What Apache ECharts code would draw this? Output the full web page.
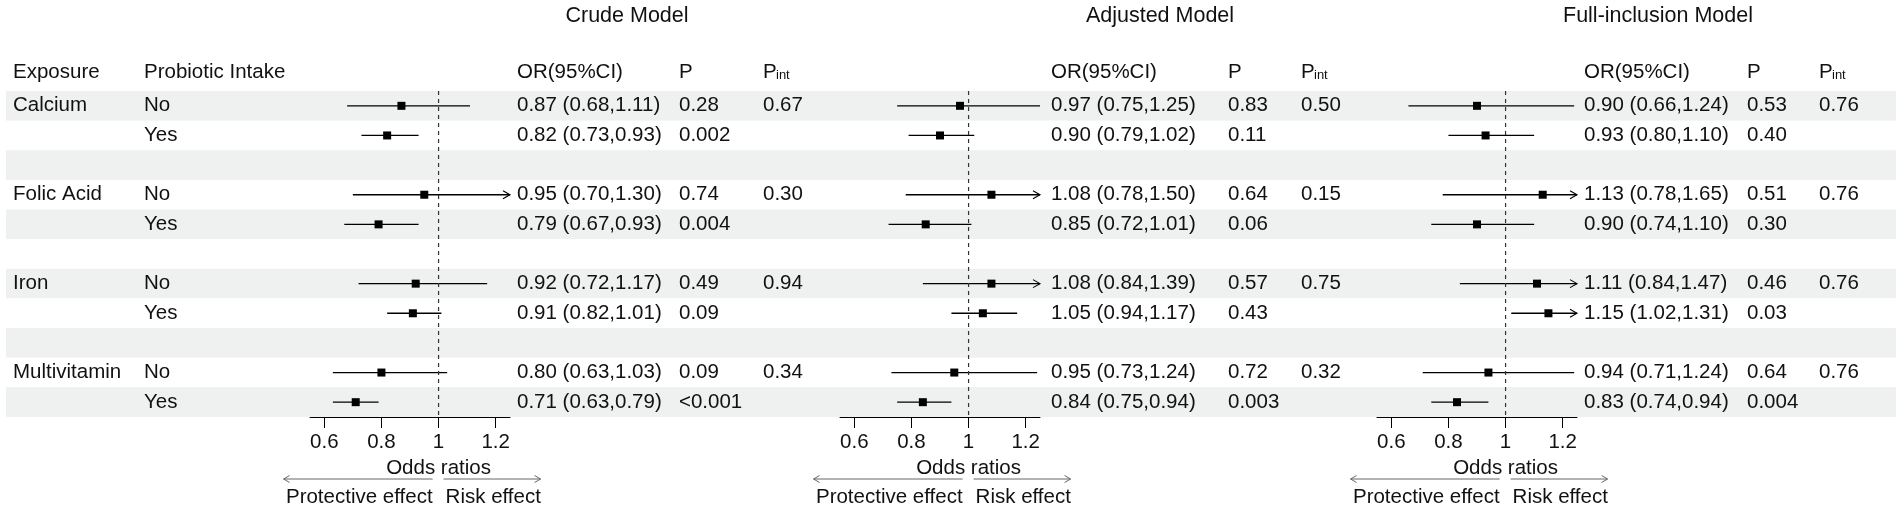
<!DOCTYPE html>
<html>
<head>
<meta charset="utf-8">
<script src="https://cdn.jsdelivr.net/npm/echarts@6/dist/echarts.min.js"></script>
<style>
  html, body { margin: 0; padding: 0; background: #fff; }
  #chart { width: 1902px; height: 511px; }
</style>
</head>
<body>
<div id="chart"></div>
<script>
// data
const exposures = ['Calcium', 'Folic Acid', 'Iron', 'Multivitamin']
const intakes = ['No', 'Yes']
const modelNames = ['Crude Model', 'Adjusted Model', 'Full-inclusion Model']
const tickValues = [0.6, 0.8, 1, 1.2]

const crudeOR = [0.87, 0.82, 0.95, 0.79, 0.92, 0.91, 0.80, 0.71]
const crudeLo = [0.68, 0.73, 0.70, 0.67, 0.72, 0.82, 0.63, 0.63]
const crudeHi = [1.11, 0.93, 1.30, 0.93, 1.17, 1.01, 1.03, 0.79]
const crudeP = ['0.28', '0.002', '0.74', '0.004', '0.49', '0.09', '0.09', '<0.001']
const crudePint = ['0.67', '0.30', '0.94', '0.34']

const adjOR = [0.97, 0.90, 1.08, 0.85, 1.08, 1.05, 0.95, 0.84]
const adjLo = [0.75, 0.79, 0.78, 0.72, 0.84, 0.94, 0.73, 0.75]
const adjHi = [1.25, 1.02, 1.50, 1.01, 1.39, 1.17, 1.24, 0.94]
const adjP = ['0.83', '0.11', '0.64', '0.06', '0.57', '0.43', '0.72', '0.003']
const adjPint = ['0.50', '0.15', '0.75', '0.32']

const fullOR = [0.90, 0.93, 1.13, 0.90, 1.11, 1.15, 0.94, 0.83]
const fullLo = [0.66, 0.80, 0.78, 0.74, 0.84, 1.02, 0.71, 0.74]
const fullHi = [1.24, 1.10, 1.65, 1.10, 1.47, 1.31, 1.24, 0.94]
const fullP = ['0.53', '0.40', '0.51', '0.30', '0.46', '0.03', '0.64', '0.004']
const fullPint = ['0.76', '0.76', '0.76', '0.76']

const models = [
  { or: crudeOR, lo: crudeLo, hi: crudeHi, p: crudeP, pint: crudePint },
  { or: adjOR, lo: adjLo, hi: adjHi, p: adjP, pint: adjPint },
  { or: fullOR, lo: fullLo, hi: fullHi, p: fullP, pint: fullPint }
]

// layout
const FONT = '"Liberation Sans", Arial, sans-serif'
const FS = 20.5
const INK = '#111'
const BAND = '#eef1f0'
const X_MIN = 0.55, X_MAX = 1.25
const TOP = 91, BODY_H = 326
const ROWS = 11 // 4 exposures x (No, Yes) + 3 spacer rows
const rowCats = Array.from({ length: ROWS }, (_, i) => String(i))
const rowOf = k => Math.floor(k / 2) * 3 + (k % 2)

// per-panel positions (px)
const panels = [
  { left: 310, title: 627, orX: 517, pX: 679, pintX: 763 },
  { left: 840, title: 1160, orX: 1051, pX: 1228, pintX: 1301 },
  { left: 1377, title: 1658, orX: 1584, pX: 1747, pintX: 1819 }
]
const PANEL_W = 200
const EXPO_X = 13, INTAKE_X = 144

const fmt = v => v.toFixed(2)

function txt(x, y, s, align, size) {
  return {
    type: 'text',
    style: {
      x, y, text: s, font: `${size || FS}px ${FONT}`, fill: INK,
      textAlign: align || 'left', textVerticalAlign: 'middle'
    }
  }
}

// table text: row labels + estimate columns, placed through the table grid
function renderTable(params, api) {
  const row = api.value(0), k = api.value(1)
  const y = api.coord([6, row])[1]
  const X = v => api.coord([v, row])[0]
  const kids = []
  const e = Math.floor(k / 2)
  if (k % 2 === 0) kids.push(txt(X(EXPO_X), y, exposures[e]))
  kids.push(txt(X(INTAKE_X), y, intakes[k % 2]))
  models.forEach((m, i) => {
    const pn = panels[i]
    kids.push(txt(X(pn.orX), y, `${fmt(m.or[k])} (${fmt(m.lo[k])},${fmt(m.hi[k])})`))
    kids.push(txt(X(pn.pX), y, m.p[k]))
    if (k % 2 === 0) kids.push(txt(X(pn.pintX), y, m.pint[e]))
  })
  return { type: 'group', children: kids }
}

// one CI line + square (+ arrow when the CI runs past the axis)
function renderForest(params, api) {
  const or = api.value(0), row = api.value(1), lo = api.value(2), hi = api.value(3)
  const y = api.coord([or, row])[1]
  const xo = api.coord([or, row])[0]
  const xl = api.coord([Math.max(lo, X_MIN), row])[0]
  const xh = api.coord([Math.min(hi, X_MAX), row])[0]
  const kids = [
    { type: 'line', shape: { x1: xl, y1: y, x2: xh, y2: y }, style: { stroke: '#000', lineWidth: 1.3 } },
    { type: 'rect', shape: { x: xo - 4, y: y - 4, width: 8, height: 8 }, style: { fill: '#000' } }
  ]
  if (hi > X_MAX) {
    kids.push({
      type: 'polyline',
      shape: { points: [[xh - 7, y - 4], [xh, y], [xh - 7, y + 4]] },
      style: { stroke: '#000', lineWidth: 1.1, fill: null }
    })
  }
  return { type: 'group', children: kids }
}

// reference line at OR = 1 and the axis annotation below it
function renderRef(params, api) {
  const x = api.coord([1, 0])[0]
  const band = api.size([0, 1])[1]
  const y0 = api.coord([1, 0])[1] - band / 2
  const y1 = api.coord([1, ROWS - 1])[1] + band / 2
  const grey = '#666'
  const ya = y1 + 62
  return {
    type: 'group',
    children: [
      { type: 'line', shape: { x1: x, y1: y0, x2: x, y2: y1 }, style: { stroke: '#333', lineWidth: 1.2, lineDash: [4, 4] } },
      txt(x, y1 + 51, 'Odds ratios', 'center'),
      { type: 'line', shape: { x1: x - 155, y1: ya, x2: x - 6, y2: ya }, style: { stroke: grey, lineWidth: 1 } },
      { type: 'polyline', shape: { points: [[x - 149, ya - 3.5], [x - 155, ya], [x - 149, ya + 3.5]] }, style: { stroke: grey, lineWidth: 1, fill: null } },
      { type: 'line', shape: { x1: x + 5, y1: ya, x2: x + 102, y2: ya }, style: { stroke: grey, lineWidth: 1 } },
      { type: 'polyline', shape: { points: [[x + 96, ya - 3.5], [x + 102, ya], [x + 96, ya + 3.5]] }, style: { stroke: grey, lineWidth: 1, fill: null } },
      txt(x - 6, y1 + 80, 'Protective effect', 'right'),
      txt(x + 7, y1 + 80, 'Risk effect', 'left')
    ]
  }
}

const grid = [{ left: 6, right: 6, top: TOP, height: BODY_H }]
const xAxis = [{ type: 'value', gridIndex: 0, min: 6, max: 1896, show: false }]
const yAxis = [{
  type: 'category', gridIndex: 0, data: rowCats, inverse: true,
  axisLine: { show: false }, axisTick: { show: false }, axisLabel: { show: false, interval: 0 },
  splitArea: { show: true, interval: 0, areaStyle: { color: [BAND, '#ffffff'] } }
}]
const series = [{
  type: 'custom', name: 'table', xAxisIndex: 0, yAxisIndex: 0, silent: true,
  renderItem: renderTable,
  data: crudeOR.map((_, k) => [rowOf(k), k])
}]

models.forEach((m, i) => {
  const gi = i + 1
  grid.push({ left: panels[i].left, width: PANEL_W, top: TOP, height: BODY_H })
  xAxis.push({
    type: 'value', gridIndex: gi, min: X_MIN, max: X_MAX,
    axisLine: { show: true, onZero: false, lineStyle: { color: '#000', width: 1 } },
    axisTick: { show: true, inside: false, length: 11, customValues: tickValues, lineStyle: { color: '#000' } },
    axisLabel: { show: true, customValues: tickValues, margin: 15, color: INK, fontSize: FS, fontFamily: FONT },
    splitLine: { show: false }
  })
  yAxis.push({ type: 'category', gridIndex: gi, data: rowCats, inverse: true, show: false })
  series.push({
    type: 'custom', name: modelNames[i], xAxisIndex: gi, yAxisIndex: gi, silent: true,
    renderItem: renderForest,
    data: m.or.map((v, k) => [v, rowOf(k), m.lo[k], m.hi[k]])
  })
  series.push({
    type: 'custom', name: 'ref' + i, xAxisIndex: gi, yAxisIndex: gi, silent: true,
    renderItem: renderRef, data: [[1, 0]]
  })
})

// headers
const graphic = []
const head = (x, s, align, size, y) => ({
  type: 'text', x, y: y || 72,
  style: { text: s, font: `${size || FS}px ${FONT}`, fill: INK, textAlign: align || 'left', textVerticalAlign: 'middle' }
})
graphic.push(head(EXPO_X, 'Exposure'))
graphic.push(head(INTAKE_X, 'Probiotic Intake'))
panels.forEach((pn, i) => {
  graphic.push(head(pn.title, modelNames[i], 'center', 21.5, 16))
  graphic.push(head(pn.orX, 'OR(95%CI)'))
  graphic.push(head(pn.pX, 'P'))
  graphic.push(head(pn.pintX, 'P'))
  graphic.push(head(pn.pintX + 13, 'int', 'left', 13, 75))
})

const chart = echarts.init(document.getElementById('chart'), null, { renderer: 'canvas' })
chart.setOption({
  animation: false,
  backgroundColor: '#fff',
  grid, xAxis, yAxis, series, graphic
})
window.addEventListener('resize', () => chart.resize())
</script>
</body>
</html>
